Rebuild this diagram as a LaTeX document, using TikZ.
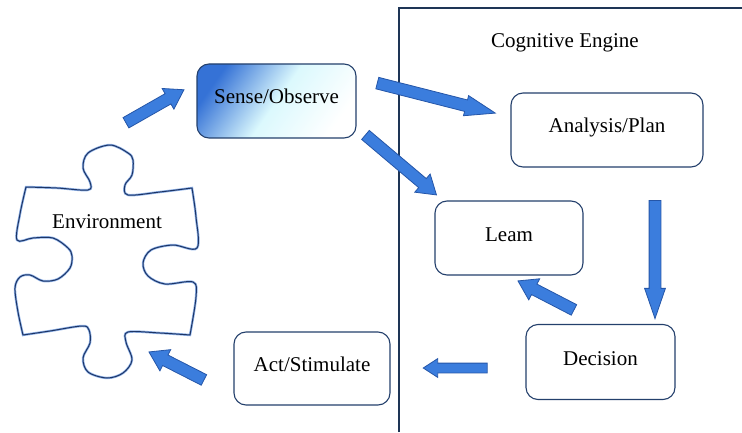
\documentclass[tikz,border=0pt]{standalone}
\usepackage{fontspec}
\setmainfont{Liberation Serif}
\usepackage{tikz}
\usetikzlibrary{shapes.arrows, positioning, calc}
\definecolor{boxline}{HTML}{24406C}
\definecolor{arrowfill}{HTML}{3B7DDD}
\definecolor{arrowline}{HTML}{2556A8}
\definecolor{senseblue}{HTML}{3572D6}
\definecolor{piecenavy}{HTML}{1D3566}
\definecolor{pieceglow}{HTML}{8FB2E8}
\definecolor{framenavy}{HTML}{1E3556}

\tikzset{
    stage/.style={draw=boxline, line width=1.1pt, rounded corners=12pt, fill=white,
        text height=15pt, text depth=9pt, font=\fontsize{21}{25}\selectfont},
    flow/.style={single arrow, draw=arrowline, fill=arrowfill, line width=0.8pt,
        inner xsep=0pt, inner ysep=5.5pt, single arrow head extend=6pt,
        single arrow tip angle=66},
    longhead/.style={single arrow head extend=4.5pt, single arrow tip angle=38},
    piece/.style={draw=piecenavy, line width=1pt, line join=round,
        preaction={draw=pieceglow, line width=2.4pt}},
}

% block arrow from #2 (tail) to #3 (tip)
\newcommand{\flowarrow}[3][]{%
    \path let \p1=($(#3)-(#2)$), \n1={veclen(\x1,\y1)}, \n2={atan2(\y1,\x1)} in
        node[flow, #1, minimum height=\n1, rotate=\n2] (#2-#3) at ($(#2)!0.5!(#3)$) {};%
}

\begin{document}
\begin{tikzpicture}[x=1pt, y=1pt]
    \useasboundingbox (0,0) rectangle (742,432);
    % Cognitive engine frame
    \draw[framenavy, line width=1.5pt] (399,0) |- (742,424);
    \node[font=\fontsize{21}{25}\selectfont] (engine) at (565,389) {Cognitive Engine};
    % Environment puzzle piece
    \draw[piece] plot[smooth, tension=0.55] coordinates {(26,245) (57,244) (88,242) (90,250) (83,264) (88,279) (110,287) (128,279) (133,272) (132,257) (125,247) (128,237) (160,240) (192,244)}
        -- plot[smooth, tension=0.55] coordinates {(192,244) (196,215) (197,184) (173,187) (151,182) (143,169) (148,156) (165,148) (193,150) (196,135) (190,97)}
        -- plot[smooth, tension=0.55] coordinates {(190,97) (160,99) (128,100) (126,90) (132,72) (123,59) (107,54) (88,60) (83,74) (90,89) (89,102) (82,106) (50,101) (23,97)}
        -- plot[smooth, tension=0.55] coordinates {(23,97) (18,120) (15,144) (20,155) (30,157) (43,151) (58,153) (70,164) (72,176) (68,184) (53,194) (33,194) (17,192) (20,218) (26,245)} -- cycle;
    \node[font=\fontsize{21}{25}\selectfont] (env) at (107,210) {Environment};
    % Stages
    \node[stage, minimum width=159pt, minimum height=74pt, top color=senseblue, bottom color=white,
        middle color=senseblue!30!cyan!15, shading angle=55] (sense) at (276.5,331) {Sense/Observe};
    \node[stage, minimum width=192pt, minimum height=74pt] (analysis) at (607,302) {Analysis/Plan};
    \node[stage, minimum width=148pt, minimum height=74pt] (learn) at (509,194) {Leam};
    \node[stage, minimum width=149pt, minimum height=75pt] (decision) at (600.5,70) {Decision};
    \node[stage, minimum width=156pt, minimum height=73pt] (act) at (312,63.5) {Act/Stimulate};
    % Arrow ends
    \coordinate (envout) at (122,307);   \coordinate (sensein) at (180,340);
    \coordinate (senseout) at (369,351); \coordinate (analysisin) at (487,321);
    \coordinate (sensedown) at (362,300); \coordinate (learnin) at (433,240);
    \coordinate (analysisout) at (655,240); \coordinate (decisionin) at (655,122);
    \coordinate (decisionup) at (578,120); \coordinate (learnbelow) at (522,149);
    \coordinate (decisionout) at (491,64); \coordinate (actin) at (427,64);
    \coordinate (actout) at (208,50);    \coordinate (envin) at (153,78);
    % Block arrows
    \flowarrow{envout}{sensein}
    \flowarrow[longhead]{senseout}{analysisin}
    \flowarrow{sensedown}{learnin}
    \flowarrow[longhead]{analysisout}{decisionin}
    \flowarrow{decisionup}{learnbelow}
    \flowarrow[inner ysep=4.5pt, single arrow head extend=4.5pt]{decisionout}{actin}
    \flowarrow{actout}{envin}
\end{tikzpicture}
\end{document}
